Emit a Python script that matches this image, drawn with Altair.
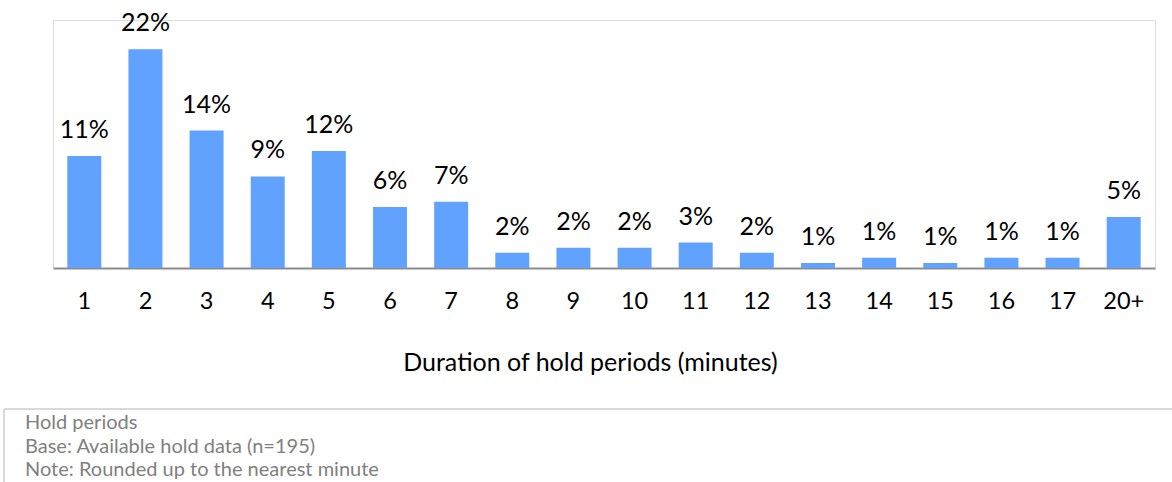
import altair as alt
import pandas as pd

# Share of hold periods by duration (minutes), n = 195
durations = ["1", "2", "3", "4", "5", "6", "7", "8", "9", "10",
             "11", "12", "13", "14", "15", "16", "17", "20+"]
share_pct = [11.28, 22.05, 13.85, 9.23, 11.79, 6.15, 6.67, 1.54, 2.05, 2.05,
             2.56, 1.54, 0.51, 1.03, 0.51, 1.03, 1.03, 5.13]

footnote_lines = [
    "Hold periods",
    "Base: Available hold data (n=195)",
    "Note: Rounded up to the nearest minute",
]
axis_title = "Duration of hold periods (minutes)"

FONT = "Lato"
BAR = "#62a2ff"

df = pd.DataFrame({"duration": durations, "pct": share_pct})

x_enc = alt.X(
    "duration:N",
    sort=durations,
    scale=alt.Scale(paddingInner=0.444, paddingOuter=0.234),
    axis=alt.Axis(
        title=axis_title,
        titleFont=FONT,
        titleFontSize=25,
        titleFontWeight="normal",
        titleColor="#000000",
        titleBaseline="middle",
        titleAlign="center",
        titleX=537,
        titleY=94,
        labelFont=FONT,
        labelFontSize=23.5,
        labelColor="#000000",
        labelAngle=0,
        labelBaseline="middle",
        labelPadding=33,
        ticks=False,
        tickSize=0,
        grid=False,
        domainColor="#8c8c8c",
        domainWidth=2,
    ),
)
y_enc = alt.Y("pct:Q", scale=alt.Scale(domain=[0, 25], nice=False), axis=None)

bars = alt.Chart(df).mark_bar(color=BAR).encode(x=x_enc, y=y_enc)

labels = (
    alt.Chart(df)
    .transform_calculate(label="format(datum.pct, '.0f') + '%'")
    .mark_text(font=FONT, fontSize=25, color="#000000", baseline="middle", dy=-26)
    .encode(x=alt.X("duration:N", sort=durations), y="pct:Q", text="label:N")
)

# Framed note block beneath the chart
one_row = alt.Data(values=[{}])
note_top = alt.Chart(one_row).mark_rule(color="#d9d9d9", strokeWidth=2).encode(
    x=alt.value(-49), x2=alt.value(1130), y=alt.value(389)
)
note_left = alt.Chart(one_row).mark_rule(color="#d9d9d9", strokeWidth=2).encode(
    x=alt.value(-49), y=alt.value(389), y2=alt.value(470)
)
note_text = alt.Chart(one_row).mark_text(
    text=footnote_lines,
    font=FONT,
    fontSize=20,
    color="#7f7f7f",
    align="left",
    baseline="middle",
    lineHeight=23.7,
).encode(x=alt.value(-28), y=alt.value(403))

chart = (
    alt.layer(bars, labels, note_top, note_left, note_text)
    .properties(
        width=1102,
        height=248,
        autosize=alt.AutoSizeParams(type="none"),
        padding={"left": 53, "top": 20, "right": 17, "bottom": 214},
    )
    .configure_view(stroke=None)
    .configure(background="#ffffff")
)

chart.save("out.html", embed_options={"renderer": "svg", "actions": False})
